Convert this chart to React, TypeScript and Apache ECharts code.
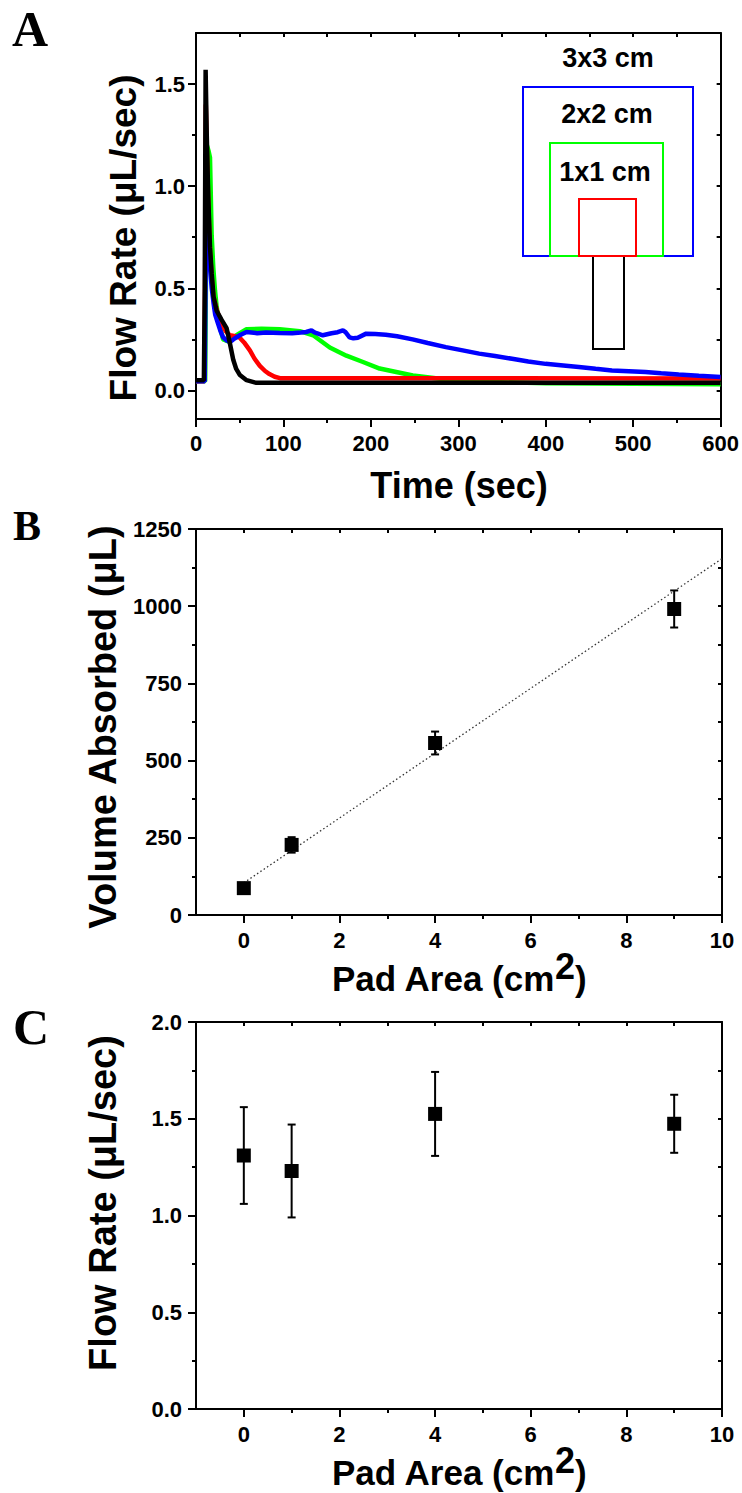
import React, { useEffect, useRef } from "react";
import * as echarts from "echarts";

// ---------- Panel A: flow rate vs time (t [sec], rate [µL/sec]) ----------
const greenCurve: [number, number][] = [
  [0, 0.045], [10.5, 0.045], [12.5, 1.2], [14.5, 1.17], [16, 1.14], [17.9, 0.76], [19.8, 0.6],
  [21.7, 0.49], [23.6, 0.41], [27.4, 0.31], [31, 0.25], [36.9, 0.24], [46.3, 0.27], [57.8, 0.3],
  [75, 0.302], [95.8, 0.3], [118.6, 0.29], [134, 0.27], [153, 0.21], [172, 0.17], [191, 0.139],
  [210, 0.107], [229, 0.09], [248, 0.073], [267, 0.063], [286, 0.053], [305, 0.045], [400, 0.035],
  [600, 0.03],
];
const redCurve: [number, number][] = [
  [0, 0.045], [9.5, 0.045], [10.5, 0.6], [11.2, 1.4], [12.3, 1.2], [14, 0.92], [16, 0.68], [18, 0.55],
  [20, 0.46], [24, 0.39], [29, 0.33], [34, 0.29], [38.8, 0.27], [45, 0.265], [50, 0.258], [55, 0.235],
  [61.6, 0.196], [67, 0.155], [73, 0.12], [79, 0.095], [84, 0.08], [90, 0.067], [96, 0.06], [600, 0.058],
];
const blueCurve: [number, number][] = [
  [0, 0.045], [10, 0.045], [11.5, 0.85], [13, 0.8], [14, 0.72], [16, 0.6], [18, 0.5], [20, 0.43],
  [22, 0.37], [25, 0.33], [28, 0.29], [31, 0.26], [35, 0.245], [39, 0.237], [44.5, 0.255], [50, 0.27],
  [57.8, 0.286], [70, 0.28], [80, 0.283], [95.8, 0.281], [110, 0.28], [120, 0.283], [126, 0.286],
  [129, 0.29], [132, 0.294], [135, 0.285], [138, 0.28], [145, 0.27], [155, 0.28], [162, 0.285],
  [168, 0.294], [171, 0.285], [175.6, 0.26], [180, 0.255], [185, 0.258], [194.6, 0.278], [205, 0.276],
  [217, 0.273], [230, 0.265], [247.7, 0.25], [265, 0.232], [285.8, 0.212], [305, 0.196], [323.8, 0.18],
  [342, 0.168], [361.5, 0.155], [380, 0.142], [399.8, 0.13], [420, 0.122], [437.8, 0.115], [457, 0.106],
  [475.7, 0.098], [495, 0.094], [513.9, 0.09], [532, 0.084], [552, 0.078], [575, 0.072], [600, 0.066],
];
const blackCurve: [number, number][] = [
  [0, 0.05], [9, 0.05], [10, 0.5], [11, 1.57], [12.3, 1.25], [14, 0.95], [16, 0.7], [18, 0.57],
  [20, 0.46], [23.6, 0.39], [29.3, 0.345], [35, 0.305], [38.8, 0.23], [42.6, 0.15], [46, 0.105],
  [50.2, 0.075], [57.8, 0.05], [69, 0.037], [600, 0.037],
];

const timeMajor = [0, 100, 200, 300, 400, 500, 600];
const timeMinor = [50, 150, 250, 350, 450, 550];
const rateMajorA = [0, 0.5, 1.0, 1.5];
const rateMinorA = [0.25, 0.75, 1.25];

// ---------- Panel B: volume absorbed vs pad area ----------
const padArea = [0, 1, 4, 9];
const volumeAbsorbed = [87, 227, 557, 991];
const volumeErr = [5, 25, 37, 60];
const fitX = [0, 10];
const fitY = [104, 1154];
const areaMajor = [0, 2, 4, 6, 8, 10];
const areaMinor = [1, 3, 5, 7, 9];
const volMajor = [0, 250, 500, 750, 1000, 1250];
const volMinor = [125, 375, 625, 875, 1125];

// ---------- Panel C: flow rate vs pad area ----------
const flowRate = [1.31, 1.23, 1.525, 1.474];
const flowErr = [0.25, 0.24, 0.217, 0.15];
const rateMajorC = [0, 0.5, 1.0, 1.5, 2.0];
const rateMinorC = [0.25, 0.75, 1.25, 1.75];

const FONT = "'Liberation Sans', Arial, sans-serif";
const SERIF = "'Liberation Serif', 'Times New Roman', serif";
const TICK_FONT = 22;

function xAxes(grid: number, min: number, max: number, major: number[], minor: number[], margin: number) {
  const line = { color: "#000", width: 2 };
  return [
    {
      type: "value", gridIndex: grid, min, max, position: "bottom",
      axisLine: { show: true, onZero: false, lineStyle: line },
      axisTick: { show: true, inside: false, length: 8, lineStyle: line, customValues: major },
      axisLabel: {
        show: true, customValues: major, margin, color: "#000", fontSize: TICK_FONT,
        fontWeight: "bold", fontFamily: FONT, formatter: (v: number) => String(v),
      },
      splitLine: { show: false },
    },
    {
      type: "value", gridIndex: grid, min, max, position: "bottom",
      axisLine: { show: false, onZero: false },
      axisTick: { show: true, inside: false, length: 4, lineStyle: line, customValues: minor },
      axisLabel: { show: false },
      splitLine: { show: false },
    },
    {
      type: "value", gridIndex: grid, min, max, position: "top",
      axisLine: { show: true, onZero: false, lineStyle: line },
      axisTick: { show: true, inside: true, length: 4, lineStyle: line, customValues: [...major, ...minor] },
      axisLabel: { show: false },
      splitLine: { show: false },
    },
  ];
}

function yAxes(grid: number, min: number, max: number, major: number[], minor: number[], margin: number, fmt: (v: number) => string) {
  const line = { color: "#000", width: 2 };
  return [
    {
      type: "value", gridIndex: grid, min, max, position: "left",
      axisLine: { show: true, onZero: false, lineStyle: line },
      axisTick: { show: true, inside: false, length: 8, lineStyle: line, customValues: major },
      axisLabel: {
        show: true, customValues: major, margin, color: "#000", fontSize: TICK_FONT,
        fontWeight: "bold", fontFamily: FONT, formatter: fmt,
      },
      splitLine: { show: false },
    },
    {
      type: "value", gridIndex: grid, min, max, position: "left",
      axisLine: { show: false, onZero: false },
      axisTick: { show: true, inside: false, length: 4, lineStyle: line, customValues: minor },
      axisLabel: { show: false },
      splitLine: { show: false },
    },
    {
      type: "value", gridIndex: grid, min, max, position: "right",
      axisLine: { show: true, onZero: false, lineStyle: line },
      axisTick: { show: true, inside: true, length: 4, lineStyle: line, customValues: [...major, ...minor] },
      axisLabel: { show: false },
      splitLine: { show: false },
    },
  ];
}

function errorSeries(xIdx: number, yIdx: number, xs: number[], ys: number[], es: number[]) {
  return {
    type: "custom",
    xAxisIndex: xIdx,
    yAxisIndex: yIdx,
    data: xs.map((x, i) => [x, ys[i], es[i]]),
    encode: { x: 0, y: 1 },
    z: 3,
    renderItem: (_params: any, api: any) => {
      const x = api.value(0);
      const y = api.value(1);
      const e = api.value(2);
      const hi = api.coord([x, y + e]);
      const lo = api.coord([x, y - e]);
      const w = 4;
      const st = { stroke: "#000", lineWidth: 2 };
      return {
        type: "group",
        children: [
          { type: "line", shape: { x1: hi[0], y1: hi[1], x2: lo[0], y2: lo[1] }, style: st },
          { type: "line", shape: { x1: hi[0] - w, y1: hi[1], x2: hi[0] + w, y2: hi[1] }, style: st },
          { type: "line", shape: { x1: lo[0] - w, y1: lo[1], x2: lo[0] + w, y2: lo[1] }, style: st },
        ],
      };
    },
  };
}

function curve(data: [number, number][], color: string, z: number) {
  return {
    type: "line",
    xAxisIndex: 0,
    yAxisIndex: 0,
    data,
    showSymbol: false,
    symbol: "none",
    lineStyle: { color, width: 4.5 },
    z,
    clip: true,
  };
}

function squares(xIdx: number, yIdx: number, xs: number[], ys: number[]) {
  return {
    type: "scatter",
    xAxisIndex: xIdx,
    yAxisIndex: yIdx,
    data: xs.map((x, i) => [x, ys[i]]),
    symbol: "rect",
    symbolSize: 14,
    itemStyle: { color: "#000", opacity: 1 },
    z: 4,
  };
}

function titleText(text: string, x: number, y: number, rotate: boolean, size: number) {
  return {
    type: "text",
    x,
    y,
    rotation: rotate ? Math.PI / 2 : 0,
    style: {
      text,
      fill: "#000",
      fontSize: size,
      fontWeight: "bold",
      fontFamily: FONT,
      align: "center",
      verticalAlign: "middle",
      textAlign: "center",
      textVerticalAlign: "middle",
    },
  };
}

function padAreaTitle(x: number, y: number) {
  return {
    type: "text",
    x,
    y,
    style: {
      text: "{a|Pad Area (cm}{s|2}{a|)}",
      fill: "#000",
      align: "center",
      verticalAlign: "middle",
      textAlign: "center",
      textVerticalAlign: "middle",
      rich: {
        a: { fontSize: 35, fontWeight: "bold", fontFamily: FONT, fill: "#000", lineHeight: 60, verticalAlign: "middle" },
        s: { fontSize: 36, fontWeight: "bold", fontFamily: FONT, fill: "#000", lineHeight: 18, verticalAlign: "top" },
      },
    },
  };
}

function letter(text: string, x: number, y: number, size: number) {
  return {
    type: "text",
    x,
    y,
    style: {
      text,
      fill: "#000",
      fontSize: size,
      fontWeight: "bold",
      fontFamily: SERIF,
      align: "left",
      verticalAlign: "middle",
      textAlign: "left",
      textVerticalAlign: "middle",
    },
  };
}

function rectEl(x: number, y: number, w: number, h: number, color: string) {
  return {
    type: "rect",
    shape: { x, y, width: w, height: h },
    style: { fill: "none", stroke: color, lineWidth: 2 },
    z: 10,
  };
}

function insetLabel(text: string, x: number, y: number) {
  return {
    type: "text",
    x,
    y,
    z: 11,
    style: {
      text,
      fill: "#000",
      fontSize: 27,
      fontWeight: "bold",
      fontFamily: FONT,
      align: "center",
      verticalAlign: "middle",
      textAlign: "center",
      textVerticalAlign: "middle",
    },
  };
}

export default function App() {
  const ref = useRef<HTMLDivElement>(null);
  useEffect(() => {
    if (!ref.current) return;
    const chart = echarts.init(ref.current, undefined, { renderer: "svg" });
    const f1 = (v: number) => v.toFixed(1);
    const f0 = (v: number) => String(v);
    chart.setOption({
      animation: false,
      backgroundColor: "#fff",
      grid: [
        { left: 196, top: 33, width: 526, height: 386 },
        { left: 196, top: 529, width: 526, height: 386 },
        { left: 196, top: 1022, width: 526, height: 387 },
      ],
      xAxis: [
        ...xAxes(0, 0, 600, timeMajor, timeMinor, 13),
        ...xAxes(1, -1, 10, areaMajor, areaMinor, 14),
        ...xAxes(2, -1, 10, areaMajor, areaMinor, 14),
      ],
      yAxis: [
        ...yAxes(0, -0.14, 1.75, rateMajorA, rateMinorA, 11, f1),
        ...yAxes(1, 0, 1250, volMajor, volMinor, 14, f0),
        ...yAxes(2, 0, 2, rateMajorC, rateMinorC, 14, f1),
      ],
      series: [
        curve(greenCurve, "#00ff00", 2),
        curve(redCurve, "#ff0000", 3),
        curve(blueCurve, "#0000ff", 4),
        curve(blackCurve, "#000000", 5),
        {
          type: "line",
          xAxisIndex: 3,
          yAxisIndex: 3,
          data: fitX.map((x, i) => [x, fitY[i]]),
          showSymbol: false,
          symbol: "none",
          lineStyle: { color: "#333", width: 1.3, type: [1.5, 2.5] },
          z: 2,
        },
        errorSeries(3, 3, padArea, volumeAbsorbed, volumeErr),
        squares(3, 3, padArea, volumeAbsorbed),
        errorSeries(6, 6, padArea, flowRate, flowErr),
        squares(6, 6, padArea, flowRate),
      ],
      graphic: [
        letter("A", 12, 29, 50),
        letter("B", 13, 526, 42),
        letter("C", 13, 1027, 50),
        titleText("Flow Rate (μL/sec)", 123, 238, true, 37),
        titleText("Time (sec)", 459, 485, false, 36),
        titleText("Volume Absorbed (μL)", 103, 727, true, 38),
        padAreaTitle(459, 978),
        titleText("Flow Rate (μL/sec)", 103, 1203, true, 38),
        padAreaTitle(459, 1472),
        rectEl(593, 256, 31, 93, "#000000"),
        rectEl(523, 87, 170, 169, "#0000ff"),
        rectEl(550, 143, 113, 113, "#00ff00"),
        rectEl(579, 199, 57, 57, "#ff0000"),
        insetLabel("3x3 cm", 608, 58),
        insetLabel("2x2 cm", 607, 114),
        insetLabel("1x1 cm", 605, 172),
      ],
    });
    return () => chart.dispose();
  }, []);
  return (
    <div
      ref={ref}
      style={{ position: "absolute", left: 0, top: 0, width: 742, height: 1493, background: "#fff" }}
    />
  );
}
